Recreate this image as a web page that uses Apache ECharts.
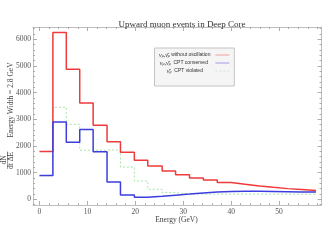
<!DOCTYPE html>
<html><head><meta charset="utf-8">
<script src="https://cdn.jsdelivr.net/npm/echarts@6/dist/echarts.min.js"></script>
<style>html,body{margin:0;padding:0;background:#fff}#c{width:322px;height:241px}</style>
</head><body><div id="c"></div>
<script>
const titleText = 'Upward muon events in Deep Core';
const xName = 'Energy (GeV)';
const edges = [0, 2.8, 5.6, 8.4, 11.2, 14.1, 16.9, 19.8, 22.6, 25.6, 28.4, 31.3, 34.2, 37.1, 40.0, 42.9, 45.9, 48.8, 51.8, 54.7, 57.7];
const redVals = [1790, 6250, 4880, 3610, 2775, 2160, 1765, 1460, 1250, 1065, 920, 800, 720, 630, 560, 500, 450, 400, 365, 330];
const blueVals = [895, 2900, 2140, 2615, 1778, 645, 160, 78, 115, 155, 195, 240, 275, 295, 300, 300, 295, 285, 275, 270];
const greenVals = [880, 3450, 2810, 1840, 1840, 1850, 1210, 685, 375, 250, 200, 195, 195, 195, 195, 195, 192, 192, 190, 190];
const xTicks = [0, 10, 20, 30, 40, 50];
const xMinor = [2, 4, 6, 8, 12, 14, 16, 18, 22, 24, 26, 28, 32, 34, 36, 38, 42, 44, 46, 48, 52, 54, 56, 58];
const yTicks = [0, 1000, 2000, 3000, 4000, 5000, 6000];
const yMinor = [-200, 200, 400, 600, 800, 1200, 1400, 1600, 1800, 2200, 2400, 2600, 2800, 3200, 3400, 3600, 3800, 4200, 4400, 4600, 4800, 5200, 5400, 5600, 5800, 6200, 6400];

function steps(vals) {
  const d = vals.map((v, i) => [edges[i], v]);
  d.push([edges[edges.length - 1], vals[vals.length - 1]]);
  return d;
}
const frame = '#bdbdbd';
const X = [-1.35, 58.85], Y = [-214, 6460];
function xa(pos, ticks, len, labels, line) {
  return { type: 'value', position: pos, min: X[0], max: X[1], splitLine: { show: false },
    axisLine: { show: line, onZero: false, lineStyle: { color: frame, width: 1 } },
    axisTick: { show: true, inside: true, length: len, customValues: ticks, lineStyle: { color: '#9a9a9a', width: 0.8 } },
    axisLabel: { show: labels, customValues: ticks, margin: 3, color: '#555', fontFamily: 'Liberation Serif', fontSize: 7.5, formatter: v => String(v) } };
}
function ya(pos, ticks, len, labels, line) {
  return { type: 'value', position: pos, min: Y[0], max: Y[1], splitLine: { show: false },
    axisLine: { show: line, onZero: false, lineStyle: { color: frame, width: 1 } },
    axisTick: { show: true, inside: true, length: len, customValues: ticks, lineStyle: { color: '#9a9a9a', width: 0.8 } },
    axisLabel: { show: labels, customValues: ticks, margin: 2, color: '#555', fontFamily: 'Liberation Serif', fontSize: 7.5, formatter: v => String(v) } };
}
const names = ['red', 'blue', 'green'];
const legendText = {
  red: '{g|ν}{s|μ}{g|,ν̄}{s|μ} without oscillation',
  blue: '{g|ν}{s|μ}{g|,ν̄}{s|μ}  CPT conserved{p2| }',
  green: '{g|ν̄}{s|μ}  CPT violated{p3| }'
};
const chart = echarts.init(document.getElementById('c'), null, { renderer: 'canvas' });
chart.setOption({
  animation: false,
  title: { text: titleText, left: 177, textAlign: 'center', top: 15, textStyle: { fontFamily: 'Liberation Serif', fontSize: 9, fontWeight: 'normal', color: '#333' } },
  grid: { left: 33, right: 0.5, top: 27, bottom: 36 },
  xAxis: [xa('bottom', xTicks, 4, true, true), xa('bottom', xMinor, 2, false, false), xa('top', xTicks, 4, false, true), xa('top', xMinor, 2, false, false)],
  yAxis: [ya('left', yTicks, 4, true, true), ya('left', yMinor, 2, false, false), ya('right', yTicks, 4, false, true), ya('right', yMinor, 2, false, false)],
  legend: {
    orient: 'vertical', left: 154.5, top: 48, align: 'right', itemWidth: 14, itemHeight: 7, itemGap: 2,
    padding: [4, 4.5, 12, 4.5], backgroundColor: '#f5f5f5', borderColor: '#c4c4c4', borderWidth: 1,
    data: names,
    itemStyle: { opacity: 0 },
    lineStyle: { width: 0.8, opacity: 0.6 },
    formatter: n => legendText[n],
    textStyle: { fontFamily: 'Liberation Sans', fontSize: 5, color: '#333',
      rich: { g: { fontFamily: 'Liberation Serif', fontStyle: 'italic', fontSize: 6, color: '#333' },
              s: { fontFamily: 'Liberation Serif', fontStyle: 'italic', fontSize: 4, color: '#333', verticalAlign: 'bottom' },
              p2: { width: 2.5, fontSize: 5 }, p3: { width: 7.5, fontSize: 5 } } }
  },
  series: [
    { name: 'red', type: 'line', step: 'end', symbol: 'none', data: steps(redVals), lineStyle: { color: '#ee3a3a', width: 1.5 }, itemStyle: { color: '#ee3a3a' }, z: 3 },
    { name: 'blue', type: 'line', step: 'end', symbol: 'none', data: steps(blueVals), lineStyle: { color: '#3d3ddf', width: 1.5 }, itemStyle: { color: '#3d3ddf' }, z: 4 },
    { name: 'green', type: 'line', step: 'end', symbol: 'none', data: steps(greenVals), lineStyle: { color: '#9de39d', width: 0.9, type: [2, 2] }, itemStyle: { color: '#9de39d' }, z: 2 }
  ],
  graphic: [
    { type: 'text', x: 11.5, y: 100, rotation: Math.PI / 2, style: { text: 'Energy Width = 2.8 GeV', fontFamily: 'Liberation Serif', fontSize: 7.5, fill: '#444', align: 'center', verticalAlign: 'middle' } },
    { type: 'text', x: 4.3, y: 160, rotation: Math.PI / 2, style: { text: 'dN', fontFamily: 'Liberation Serif', fontSize: 7.5, fill: '#444', align: 'center', verticalAlign: 'middle' } },
    { type: 'line', shape: { x1: 7.6, y1: 151.5, x2: 7.6, y2: 169 }, style: { stroke: '#555', lineWidth: 0.6 } },
    { type: 'text', x: 11, y: 160.5, rotation: Math.PI / 2, style: { text: 'dt ΔE', fontFamily: 'Liberation Serif', fontSize: 7.5, fill: '#444', align: 'center', verticalAlign: 'middle' } },
    { type: 'text', x: 176.5, y: 220, style: { text: xName, fontFamily: 'Liberation Serif', fontSize: 7.5, fill: '#444', align: 'center', verticalAlign: 'middle' } }
  ]
});
</script></body></html>
